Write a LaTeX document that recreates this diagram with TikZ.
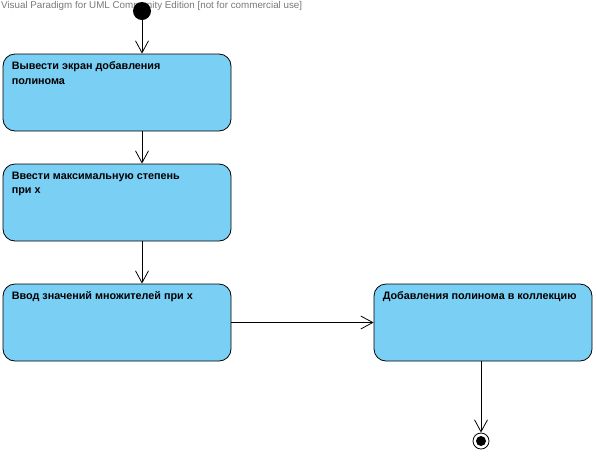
\documentclass[tikz,border=0pt]{standalone}
\usepackage{fontspec}
\setmainfont{Liberation Sans}
\usetikzlibrary{arrows.meta, positioning, calc}
\definecolor{actblue}{RGB}{122, 207, 245}
\definecolor{wmgray}{RGB}{120, 120, 120}

\begin{document}
\begin{tikzpicture}[
  x=1pt, y=-1pt,
  action/.style={draw, line width=0.8pt, fill=actblue, rounded corners=12pt, minimum width=228pt, minimum height=77pt, inner sep=0pt},
  caption/.style={anchor=north west, inner sep=0pt, align=left, font=\fontsize{10.8}{14.5}\selectfont\bfseries},
  flow/.style={-{Straight Barb[length=12pt, width=13pt]}, line width=0.8pt}
]
  \useasboundingbox (0,0) rectangle (596,456);

  % Watermark
  \node[anchor=north west, inner sep=0pt, text=wmgray, font=\fontsize{9.8}{11}\selectfont] (mark) at (1,1.5) {Visual Paradigm for UML Community Edition [not for commercial use]};

  % Start
  \node[circle, fill=black, minimum size=18pt, inner sep=0pt] (init) at (142, 11) {};

  % Actions
  \node[action] (show) at (117, 92.5) {};
  \node[caption] at ($(show.north west)+(9,8)$) {Вывести экран добавления\\полинома};

  \node[action] (degree) at (117, 202.5) {};
  \node[caption] at ($(degree.north west)+(9,8)$) {Ввести максимальную степень\\при х};

  \node[action] (coeffs) at (117, 322.5) {};
  \node[caption] at ($(coeffs.north west)+(9,8)$) {Ввод значений множителей при х};

  \node[action, minimum width=218pt] (addcol) at (483, 322.5) {};
  \node[caption] at ($(addcol.north west)+(9,8)$) {Добавления полинома в коллекцию};

  % End
  \node[circle, draw, line width=0.8pt, minimum size=16pt, inner sep=0pt] (final) at (481, 441) {};
  \node[circle, fill=black, minimum size=10pt, inner sep=0pt] at (final) {};

  % Flows
  \draw[flow] (init) -- (init |- show.north);
  \draw[flow] (show.south -| init) -- (degree.north -| init);
  \draw[flow] (degree.south -| init) -- (coeffs.north -| init);
  \draw[flow] (coeffs) -- (addcol);
  \draw[flow] (addcol.south -| final) -- (final);
\end{tikzpicture}
\end{document}
